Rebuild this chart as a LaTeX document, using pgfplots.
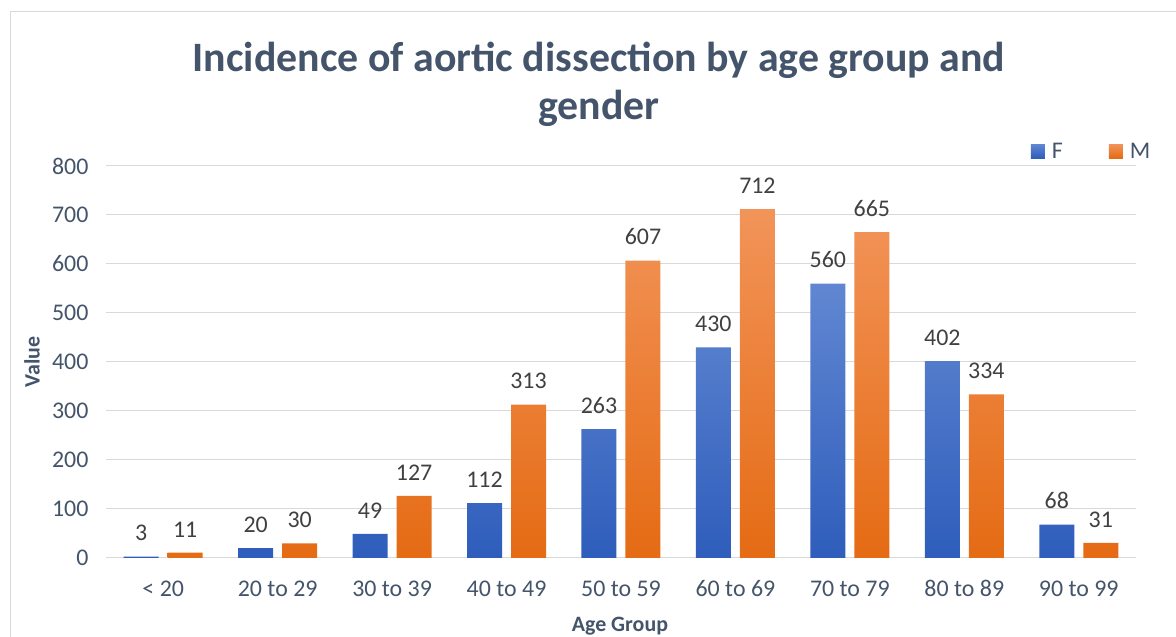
\documentclass[border=0pt]{standalone}
\usepackage{pgfplots}
\pgfplotsset{compat=1.18}
\usepackage{fontspec}
\setmainfont{Carlito}
\definecolor{txt}{HTML}{44546A}
\definecolor{lbl}{HTML}{404040}
\definecolor{grid}{HTML}{D9D9D9}
\definecolor{bTop}{HTML}{6187D2}
\definecolor{bBot}{HTML}{2E5DBB}
\definecolor{oTop}{HTML}{F29459}
\definecolor{oBot}{HTML}{E56B14}
\definecolor{bMid}{HTML}{4472C4}
\definecolor{oMid}{HTML}{ED7D31}
\begin{document}
\begin{tikzpicture}[x=1bp,y=1bp]
\path[use as bounding box] (0,0) rectangle (1176,637);
\draw[color=grid, line width=1.5bp] (10.5,0) -- (10.5,625.5) -- (1176,625.5);
\node[text=txt, font=\fontsize{42}{48}\selectfont\bfseries, align=center] at (599,553) {Incidence of aortic dissection by age group and\\gender};
\begin{axis}[
  at={(106bp,79bp)}, anchor=south west,
  scale only axis, width=1030bp, height=392bp,
  xmin=-0.5, xmax=8.5, ymin=0, ymax=800,
  ybar=9bp, bar width=35bp,
  xtick={0,...,8},
  xticklabels={{< 20},{20 to 29},{30 to 39},{40 to 49},{50 to 59},{60 to 69},{70 to 79},{80 to 89},{90 to 99}},
  ytick={0,100,...,800},
  ymajorgrids, grid style={color=grid, line width=1bp},
  axis x line*=bottom, axis y line*=left,
  x axis line style={draw=grid, line width=1bp},
  y axis line style={draw=none},
  major tick length=0pt,
  tick style={draw=none},
  /pgf/number format/assume math mode=true,
  ticklabel style={text=txt, font=\fontsize{24}{28}\selectfont},
  xticklabel style={yshift=-19bp},
  yticklabel style={xshift=-14bp},
  xlabel={Age Group}, ylabel={Value},
  every axis x label/.style={at={(axis description cs:0.499,-0.174)}, anchor=center, text=txt, font=\fontsize{22}{26}\selectfont\bfseries},
  every axis y label/.style={at={(axis description cs:-0.0718,0.5)}, rotate=90, anchor=center, text=txt, font=\fontsize{22}{26}\selectfont\bfseries},
  nodes near coords,
  every node near coord/.append style={text=lbl, font=\fontsize{24}{28}\selectfont, yshift=12bp},
  legend columns=2,
  legend style={draw=none, fill=none, at={(axis description cs:0.957,1.038)}, anchor=center, font=\fontsize{24}{28}\selectfont, text=txt,
    /tikz/every odd column/.append style={column sep=5bp},
    /tikz/every even column/.append style={column sep=44bp}},
]
\addplot[draw=none, top color=bTop, bottom color=bBot, legend image code/.code={\fill[bMid] (0bp,-7bp) rectangle (14bp,7bp);}]
  coordinates {(0,3) (1,20) (2,49) (3,112) (4,263) (5,430) (6,560) (7,402) (8,68)};
\addlegendentry{F}
\addplot[draw=none, top color=oTop, bottom color=oBot, legend image code/.code={\fill[oMid] (0bp,-7bp) rectangle (14bp,7bp);}]
  coordinates {(0,11) (1,30) (2,127) (3,313) (4,607) (5,712) (6,665) (7,334) (8,31)};
\addlegendentry{M}
\end{axis}
\end{tikzpicture}
\end{document}
